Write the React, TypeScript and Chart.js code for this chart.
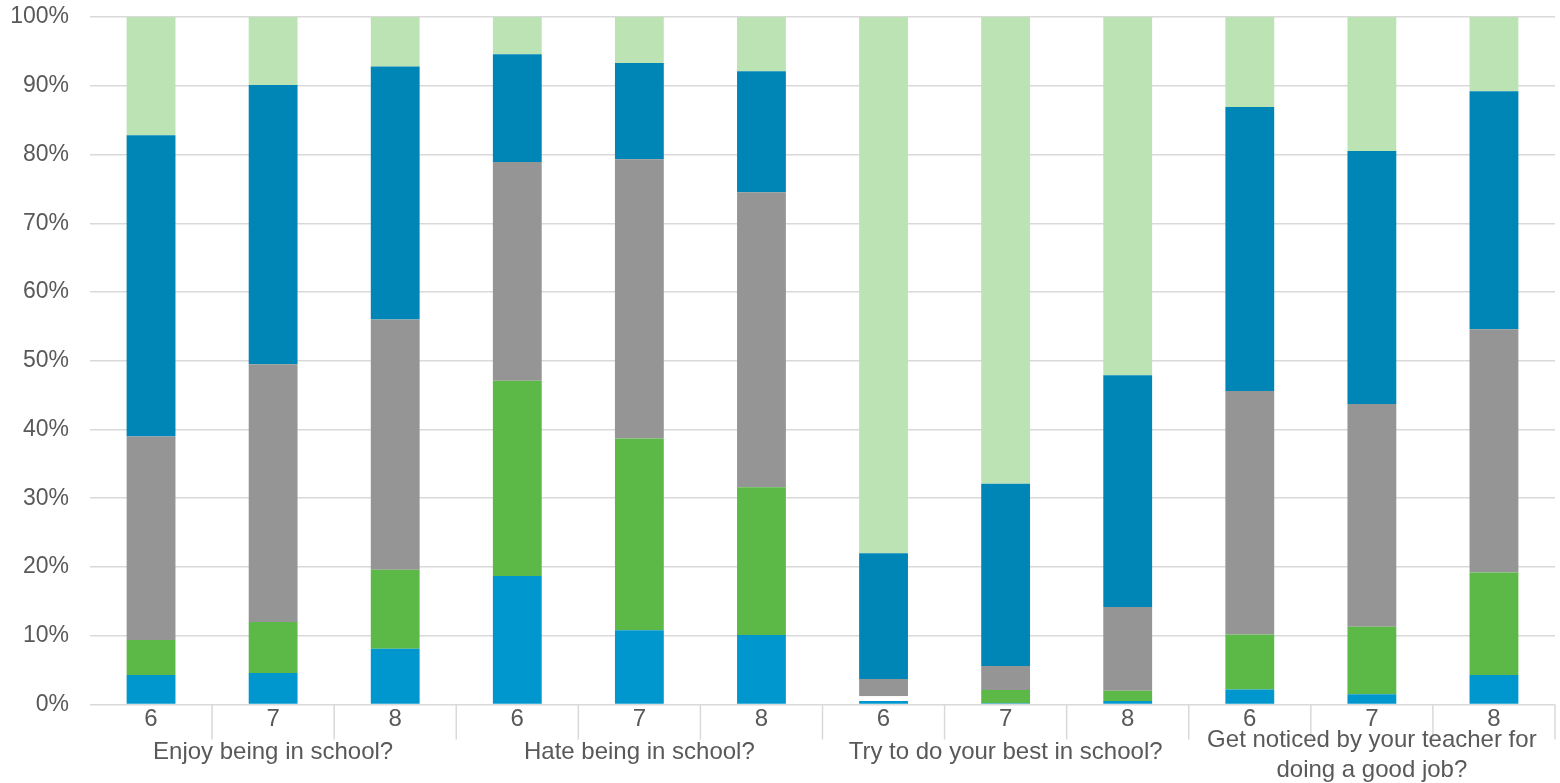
import React, { useEffect, useRef } from "react";
import { Chart, registerables } from "chart.js";

Chart.register(...registerables);

const categories = ["6", "7", "8", "6", "7", "8", "6", "7", "8", "6", "7", "8"];
const groupLabels: (string | string[])[] = [
  "Enjoy being in school?",
  "Hate being in school?",
  "Try to do your best in school?",
  ["Get noticed by your teacher for", "doing a good job?"],
];
const seriesA = [4.3, 4.6, 8.1, 18.7, 10.8, 10.1, 0.5, 0.2, 0.5, 2.2, 1.5, 4.3];
const seriesB = [5.1, 7.4, 11.5, 28.4, 27.9, 21.5, 0.7, 1.9, 1.5, 8.0, 9.8, 14.9];
const seriesC = [29.6, 37.5, 36.4, 31.8, 40.6, 42.9, 2.5, 3.5, 12.2, 35.4, 32.4, 35.4];
const seriesD = [43.8, 40.6, 36.8, 15.7, 14.0, 17.6, 18.3, 26.5, 33.7, 41.3, 36.8, 34.6];
const seriesE = [17.2, 9.9, 7.2, 5.4, 6.7, 7.9, 78.0, 67.9, 52.1, 13.1, 19.5, 10.8];
const yTicks = [0, 10, 20, 30, 40, 50, 60, 70, 80, 90, 100];

const TEXT = "#595959";
const GRID = "#d9d9d9";
const FONT = "'Liberation Sans', Arial, sans-serif";

export default function App() {
  const ref = useRef<HTMLCanvasElement | null>(null);

  useEffect(() => {
    if (!ref.current) return;
    const groupPlugin = {
      id: "groupPlugin",
      afterDraw(chart: any) {
        const ctx = chart.ctx;
        const x = chart.scales.x;
        const area = chart.chartArea;
        const n = categories.length;
        const step = n > 1 ? x.getPixelForValue(1) - x.getPixelForValue(0) : 0;
        ctx.save();
        ctx.strokeStyle = GRID;
        ctx.lineWidth = 1.5;
        for (let i = 1; i <= n; i++) {
          const px = x.getPixelForValue(i - 1) + step / 2;
          ctx.beginPath();
          ctx.moveTo(px, area.bottom);
          ctx.lineTo(px, area.bottom + 35);
          ctx.stroke();
        }
        ctx.fillStyle = TEXT;
        ctx.font = `24px ${FONT}`;
        ctx.textAlign = "center";
        ctx.textBaseline = "alphabetic";
        groupLabels.forEach((g, gi) => {
          const cx = x.getPixelForValue(gi * 3 + 1);
          if (Array.isArray(g)) {
            g.forEach((line, li) => {
              ctx.fillText(line, cx, area.bottom + 42 + li * 30);
            });
          } else {
            ctx.fillText(g, cx, area.bottom + 54);
          }
        });
        ctx.restore();
      },
    };

    const bgB = seriesB.map((_, i) => (i === 6 ? "#ffffff" : "#5DB947"));

    const chart = new Chart(ref.current, {
      type: "bar",
      data: {
        labels: categories,
        datasets: [
          { data: seriesA, backgroundColor: "#0097CE" },
          { data: seriesB, backgroundColor: bgB },
          { data: seriesC, backgroundColor: "#959595" },
          { data: seriesD, backgroundColor: "#0086B6" },
          { data: seriesE, backgroundColor: "#BCE3B4" },
        ],
      },
      options: {
        animation: false,
        responsive: true,
        maintainAspectRatio: false,
        datasets: { bar: { barPercentage: 0.4, categoryPercentage: 1.0 } },
        layout: { padding: { top: 17, right: 5, left: 0, bottom: 0 } },
        plugins: { legend: { display: false }, tooltip: { enabled: false } },
        scales: {
          x: {
            stacked: true,
            grid: { display: false, drawTicks: false },
            border: { display: false },
            ticks: { color: TEXT, font: { family: FONT, size: 24 }, padding: 0, maxRotation: 0 },
            afterFit: (s: any) => {
              s.height = 78.5;
            },
          },
          y: {
            stacked: true,
            min: 0,
            max: 100,
            afterBuildTicks: (s: any) => {
              s.ticks = yTicks.map((v) => ({ value: v }));
            },
            grid: { color: GRID, lineWidth: 1.5, drawTicks: false },
            border: { display: false },
            ticks: {
              color: TEXT,
              font: { family: FONT, size: 23 },
              padding: 21,
              callback: (v: any) => `${v}%`,
            },
            afterFit: (s: any) => {
              s.width = 90;
              s.paddingTop = 0;
              s.paddingBottom = 0;
            },
          },
        },
      },
      plugins: [groupPlugin],
    });
    return () => chart.destroy();
  }, []);

  return (
    <div style={{ position: "fixed", left: 0, top: 0, width: 1560, height: 783, background: "#fff" }}>
      <canvas ref={ref} />
    </div>
  );
}
